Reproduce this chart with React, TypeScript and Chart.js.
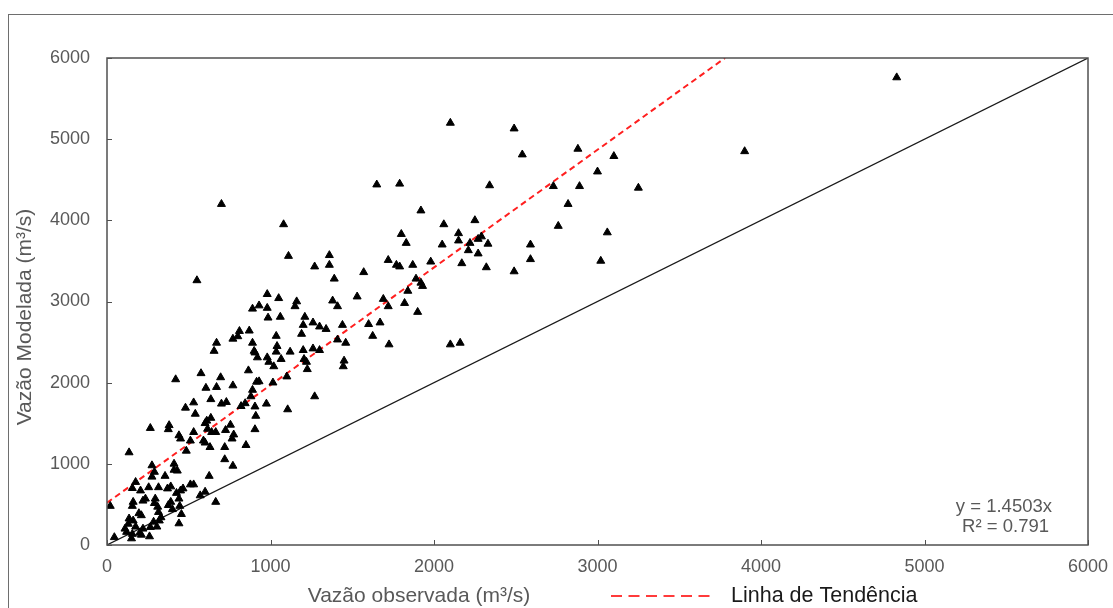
import React, { useEffect, useRef } from "react";
import { Chart, registerables } from "chart.js";

Chart.register(...registerables);

// Observed discharge (m³/s)
const observed = [
  4830, 3900, 2100, 2490, 2540, 2880, 3100, 3000, 3250, 2890, 2730, 2340, 1650, 1790, 2820, 700,
  2760, 1080, 3060, 1920, 2590, 2590, 3020, 2490, 550, 2100, 2160, 2060, 2250, 1800, 1830, 2150,
  2150, 2050, 2220, 2270, 2290, 2330, 2210, 2270, 2170, 1870, 1980, 2320, 1790, 1890, 1920, 1930,
  1840, 1820, 1900, 1110, 1360, 1360, 1270, 1390, 1570, 1720, 1770, 1530, 1380, 1410, 1690, 1720,
  1670, 1600, 1440, 1160, 1150, 980, 1050, 980, 930, 890, 985, 1060, 1210, 1200, 1260, 1300,
  1340, 810, 870, 800, 770, 670, 655, 890, 900, 905, 920, 1035, 1040, 1035, 980, 990,
  1020, 1065, 1120, 1200, 1260, 1300, 1205, 1220, 1225, 1190, 1460, 1410, 1450, 1445, 1270, 865,
  930, 915, 890, 1015, 975, 905, 910, 1105, 1100, 575, 420, 695, 605, 670, 770, 635,
  530, 480, 700, 730, 540, 635, 880, 820, 845, 265, 135, 380, 375, 440, 450, 530,
  510, 600, 610, 615, 640, 665, 755, 725, 775, 765, 590, 600, 630, 485, 720, 720,
  770, 850, 905, 275, 290, 275, 410, 410, 430, 355, 175, 155, 205, 255, 315, 370,
  390, 465, 510, 530, 425, 235, 220, 295, 290, 160, 155, 20, 390, 375, 440, 445,
  400, 310, 315, 330, 320, 455, 440, 570, 600, 625, 665, 450, 195, 210, 135, 160,
  130, 175, 110, 120, 155, 200, 220, 260, 150, 210, 45, 265, 305, 285, 1725, 1625,
];

// Modelled discharge (m³/s)
const modeled = [
  5760, 4850, 5200, 5130, 4810, 4880, 4790, 4600, 4400, 4420, 4420, 4430, 4440, 4450, 4200, 4200,
  3930, 3950, 3850, 4120, 3700, 3520, 3500, 3370, 3260, 2470, 2490, 3950, 4000, 3830, 3720, 3840,
  3750, 3700, 3720, 3770, 3800, 3710, 3630, 3590, 3470, 3450, 3490, 3420, 3430, 3280, 3230, 3190,
  3130, 2980, 2870, 3560, 3570, 3450, 3430, 3280, 3360, 3510, 3450, 3060, 3010, 2940, 3030, 2940,
  2740, 2720, 2710, 3000, 2940, 3090, 3040, 2920, 2950, 2910, 2800, 2810, 2810, 2710, 2740, 2690,
  2660, 2635, 2640, 2570, 2540, 2490, 2390, 2490, 2390, 2370, 2310, 2575, 2450, 2380, 2310, 2255,
  2200, 2290, 2380, 2400, 2420, 2400, 2290, 2255, 2165, 2600, 2490, 2530, 2270, 2200, 1830, 2150,
  2015, 2010, 1910, 2000, 1740, 1705, 1590, 1670, 2075, 2115, 2040, 2065, 1935, 1945, 1965, 1795,
  1755, 1690, 1740, 1760, 1615, 1565, 1830, 1710, 1745, 1440, 1140, 1475, 1425, 1350, 1310, 1390,
  1285, 1500, 1530, 1430, 1390, 1390, 1480, 1415, 1360, 1310, 1285, 1260, 1205, 1160, 1205, 1055,
  975, 1230, 1425, 980, 900, 840, 1000, 925, 915, 850, 775, 700, 670, 710, 710, 695,
  720, 695, 745, 745, 640, 570, 545, 570, 515, 530, 480, 480, 530, 490, 570, 480,
  440, 470, 405, 340, 300, 380, 265, 610, 655, 850, 530, 670, 390, 365, 325, 300,
  260, 225, 200, 160, 135, 150, 200, 105, 80, 125, 95, 220, 225, 285, 2470, 2575,
];

const axisTicks = [0, 1000, 2000, 3000, 4000, 5000, 6000];
const axisTickLabels = ["0", "1000", "2000", "3000", "4000", "5000", "6000"];
const trendX = [0, 3780];
const trendY = [520, 6000];
const identityX = [0, 6000];
const identityY = [0, 6000];

const xTitle = "Vazão observada (m³/s)";
const yTitle = "Vazão Modelada (m³/s)";
const legendLabel = "Linha de Tendência";
const equationLines = ["y = 1.4503x", "R² = 0.791"];

const FONT = "'Liberation Sans', Arial, sans-serif";
const TEXT = "#595959";

const tickLabel = (v: any) => {
  const i = axisTicks.indexOf(Number(v));
  return i >= 0 ? axisTickLabels[i] : "";
};

const decorPlugin = {
  id: "decor",
  beforeDraw(chart: any) {
    const ctx = chart.ctx;
    ctx.save();
    ctx.strokeStyle = "#6e6e6e";
    ctx.lineWidth = 1;
    ctx.strokeRect(8.5, 14.5, 1300, 800);
    ctx.restore();
  },
  afterDraw(chart: any) {
    const ctx = chart.ctx;
    const a = chart.chartArea;
    const xs = chart.scales.x;
    const ys = chart.scales.y;
    ctx.save();
    // plot frame
    ctx.strokeStyle = "#505050";
    ctx.lineWidth = 1.5;
    ctx.strokeRect(a.left, a.top, a.right - a.left, a.bottom - a.top);
    // inward tick marks
    ctx.lineWidth = 1;
    ctx.beginPath();
    axisTicks.forEach((v) => {
      const px = Math.round(xs.getPixelForValue(v)) + 0.5;
      ctx.moveTo(px, a.bottom);
      ctx.lineTo(px, a.bottom - 5);
      const py = Math.round(ys.getPixelForValue(v)) + 0.5;
      ctx.moveTo(a.left, py);
      ctx.lineTo(a.left + 5, py);
    });
    ctx.stroke();

    // axis titles
    ctx.fillStyle = TEXT;
    ctx.font = `21px ${FONT}`;
    ctx.textBaseline = "middle";
    ctx.textAlign = "center";
    ctx.fillText(xTitle, 419, 596);
    ctx.save();
    ctx.translate(25, 317);
    ctx.rotate(-Math.PI / 2);
    ctx.fillText(yTitle, 0, 0);
    ctx.restore();

    // legend
    ctx.strokeStyle = "#ff3b3b";
    ctx.lineWidth = 2;
    ctx.setLineDash([11, 6.5]);
    ctx.beginPath();
    ctx.moveTo(611, 596);
    ctx.lineTo(716, 596);
    ctx.stroke();
    ctx.setLineDash([]);
    ctx.fillStyle = "#1a1a1a";
    ctx.font = `21.5px ${FONT}`;
    ctx.textAlign = "left";
    ctx.fillText(legendLabel, 731, 596);

    // equation
    ctx.fillStyle = TEXT;
    ctx.font = `18.5px ${FONT}`;
    ctx.textAlign = "right";
    ctx.fillText(equationLines[0], 1052, 507);
    ctx.fillText(equationLines[1], 1049, 527);
    ctx.restore();
  },
};

export default function App() {
  const ref = useRef<HTMLCanvasElement | null>(null);

  useEffect(() => {
    if (!ref.current) return;
    const points = observed.map((x, i) => ({ x, y: modeled[i] }));
    const trend = trendX.map((x, i) => ({ x, y: trendY[i] }));
    const identity = identityX.map((x, i) => ({ x, y: identityY[i] }));

    const chart = new Chart(ref.current, {
      type: "scatter",
      data: {
        datasets: [
          {
            label: "Vazão",
            data: points,
            pointStyle: "triangle",
            pointRadius: 4.6,
            pointBackgroundColor: "#000000",
            pointBorderColor: "#000000",
            pointBorderWidth: 1,
          },
          {
            label: legendLabel,
            data: trend,
            showLine: true,
            borderColor: "#ff1f1f",
            borderWidth: 2,
            borderDash: [6, 4],
            pointRadius: 0,
          },
          {
            label: "1:1",
            data: identity,
            showLine: true,
            borderColor: "#1a1a1a",
            borderWidth: 1.2,
            pointRadius: 0,
          },
        ],
      },
      options: {
        animation: false,
        responsive: false,
        layout: { padding: { left: 0, top: 58, right: 25, bottom: 0 } },
        plugins: {
          legend: { display: false },
          tooltip: { enabled: false },
        },
        scales: {
          x: {
            type: "linear",
            min: 0,
            max: 6000,
            afterFit: (s: any) => {
              s.height = 63;
              s.paddingLeft = 0;
              s.paddingRight = 0;
            },
            afterBuildTicks: (s: any) => {
              s.ticks = axisTicks.map((v) => ({ value: v }));
            },
            grid: { display: false, drawTicks: false },
            border: { display: false },
            ticks: {
              padding: 11,
              maxRotation: 0,
              color: TEXT,
              font: { family: FONT, size: 18 },
              callback: tickLabel,
            },
          },
          y: {
            type: "linear",
            min: 0,
            max: 6000,
            afterFit: (s: any) => {
              s.width = 107;
              s.paddingTop = 0;
              s.paddingBottom = 0;
            },
            afterBuildTicks: (s: any) => {
              s.ticks = axisTicks.map((v) => ({ value: v }));
            },
            grid: { display: false, drawTicks: false },
            border: { display: false },
            ticks: {
              padding: 17,
              color: TEXT,
              font: { family: FONT, size: 18 },
              callback: tickLabel,
            },
          },
        },
      },
      plugins: [decorPlugin],
    });
    return () => chart.destroy();
  }, []);

  return (
    <div style={{ position: "fixed", left: 0, top: 0, width: 1113, height: 608, background: "#fff" }}>
      <canvas ref={ref} width={1113} height={608} style={{ display: "block" }} />
    </div>
  );
}
